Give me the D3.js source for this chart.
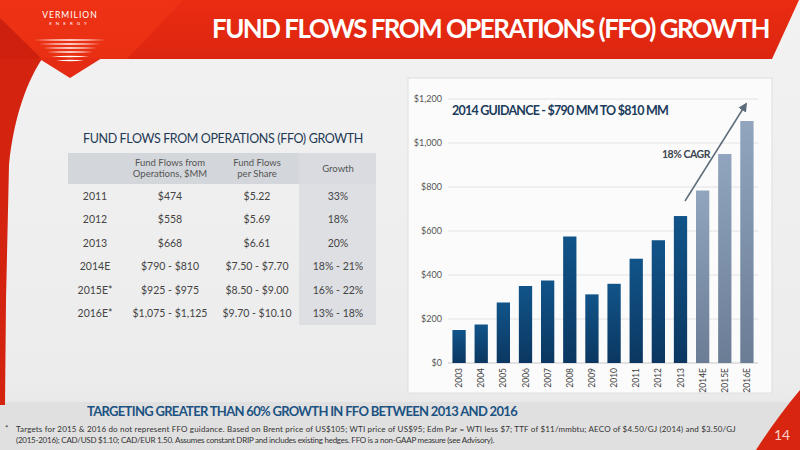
<!DOCTYPE html>
<html><head><meta charset="utf-8">
<script src="https://cdn.jsdelivr.net/npm/d3@7"></script>
<style>
html,body{margin:0;padding:0;background:#ececec;}
svg{display:block;font-family:Lato,"Open Sans",sans-serif;}
</style></head>
<body><svg id="c" width="800" height="450"></svg>
<script>
// ---- data ----
const years = ["2003","2004","2005","2006","2007","2008","2009","2010","2011","2012","2013","2014E","2015E","2016E"];
const ffo = [150,175,275,350,375,575,312,360,474,558,668,784,950,1100];
const estimate = [false,false,false,false,false,false,false,false,false,false,false,true,true,true];
const yTicks = [0,200,400,600,800,1000,1200];
const tableHead = ["", "Fund Flows from|Operations, $MM", "Fund Flows|per Share", "Growth"];
const tableYears = ["2011","2012","2013","2014E","2015E*","2016E*"];
const tableFFO = ["$474","$558","$668","$790 - $810","$925 - $975","$1,075 - $1,125"];
const tablePerShare = ["$5.22","$5.69","$6.61","$7.50 - $7.70","$8.50 - $9.00","$9.70 - $10.10"];
const tableGrowth = ["33%","18%","20%","18% - 21%","16% - 22%","13% - 18%"];

const svg = d3.select("#c");
const defs = svg.append("defs");

// fit a text to a target width by adjusting letter-spacing (and size if needed)
function fit(sel, target){
  const node = sel.node();
  let w = node.getComputedTextLength();
  const n = sel.text().length;
  let ls = (target - w) / n;
  if (ls < -1.5) {
    const fs = parseFloat(sel.attr("font-size"));
    sel.attr("font-size", fs * (target + 1.5*n) / w);
    w = node.getComputedTextLength();
    ls = (target - w) / n;
  }
  sel.attr("letter-spacing", ls);
  return sel;
}

// backgrounds
const bg = defs.append("linearGradient").attr("id","bg").attr("x1",0).attr("y1",0).attr("x2",0).attr("y2",1);
bg.append("stop").attr("offset","0").attr("stop-color","#f2f2f2");
bg.append("stop").attr("offset","0.85").attr("stop-color","#ececec");
bg.append("stop").attr("offset","1").attr("stop-color","#e2e2e2");
svg.append("rect").attr("width",800).attr("height",450).attr("fill","url(#bg)");
svg.append("rect").attr("x",0).attr("y",402).attr("width",800).attr("height",48).attr("fill","#e0e0e0");

// header band
const hg = defs.append("linearGradient").attr("id","hg").attr("x1",0).attr("y1",0).attr("x2",0).attr("y2",1);
hg.append("stop").attr("offset","0").attr("stop-color","#ea2c12");
hg.append("stop").attr("offset","1").attr("stop-color","#dc2510");
svg.append("path").attr("d","M0,0 L799,0 L772,59 L0,59 Z").attr("fill","url(#hg)");
svg.append("path").attr("d","M0,0 L183,0 L127,59 L0,59 Z").attr("fill","#ef3416").attr("opacity",0.7);
svg.append("path").attr("d","M0,18 L42,59 L0,59 Z").attr("fill","#c71d0c").attr("opacity",0.8);
// left swoosh
svg.append("path").attr("d","M0,59 L42,59 C28,80 14,115 9,165 L6,300 L5,405 L0,405 Z").attr("fill","#d4230f");
// logo triangle
svg.append("path").attr("d","M38,58 L102,58 L70,78 Z").attr("fill","#e52b13");
// logo text & stripes
svg.append("text").attr("x",70).attr("y",18).attr("text-anchor","middle").attr("fill","#fff")
  .attr("font-size",8.5).attr("letter-spacing",1).text("VERMILION");
svg.append("text").attr("x",70).attr("y",25).attr("text-anchor","middle").attr("fill","#fff")
  .attr("font-size",4.5).attr("letter-spacing",4).text("ENERGY");
const stripes = [[40,36],[44,31],[48,27],[52,23],[56.5,19],[60.5,14]];
stripes.forEach(s=>{
  svg.append("path").attr("d",`M${70-s[1]},${s[0]} Q70,${s[0]-1.6} ${70+s[1]},${s[0]} Q70,${s[0]+1.6} ${70-s[1]},${s[0]}Z`).attr("fill","#fff");
});

// title
fit(svg.append("text").attr("x",212).attr("y",38).attr("fill","#fff")
  .attr("font-size",26).attr("font-weight",700)
  .text("FUND FLOWS FROM OPERATIONS (FFO) GROWTH"), 557);

// bottom right swoosh
svg.append("path").attr("d","M800,390 C785,408 770,428 756,450 L800,450 Z").attr("fill","#d8250f");
svg.append("text").attr("x",782).attr("y",440).attr("text-anchor","middle").attr("fill","#f6d0c8")
  .attr("font-size",14).text("14");

// ---- table ----
fit(svg.append("text").attr("x",83).attr("y",143).attr("fill","#1f3a55").attr("font-size",12.5)
  .text("FUND FLOWS FROM OPERATIONS (FFO) GROWTH"), 280);
svg.append("rect").attr("x",68).attr("y",153).attr("width",308).attr("height",31).attr("fill","#d3d6da");
svg.append("rect").attr("x",299).attr("y",153).attr("width",77).attr("height",172).attr("fill","#d9dce0").attr("opacity",0.85);
const colX = [95,170,257,338];
tableHead.forEach((h,i)=>{
  const lines = h.split("|");
  lines.forEach((l,j)=>{
    svg.append("text").attr("x",colX[i]).attr("y", lines.length===1 ? 172 : 166+ j*11)
      .attr("text-anchor","middle").attr("fill","#555").attr("font-size",9.5).text(l);
  });
});
const rowY = d3.scalePoint().domain(tableYears).range([196,313]);
const cols = [tableYears,tableFFO,tablePerShare,tableGrowth];
cols.forEach((col,i)=>{
  col.forEach((v,r)=>{
    svg.append("text").attr("x",colX[i]).attr("y",rowY(tableYears[r])+4)
      .attr("text-anchor","middle").attr("fill","#444").attr("font-size",10.5).text(v);
  });
});

// ---- chart ----
svg.append("rect").attr("x",408).attr("y",78).attr("width",364).attr("height",315)
  .attr("fill","#fbfbfb").attr("stroke","#dedede");
const x = d3.scaleBand().domain(years).range([448,758]).paddingInner(0.4).paddingOuter(0.2);
const y = d3.scaleLinear().domain([0,1200]).range([363,99]);

svg.append("g").selectAll("line").data(yTicks).join("line")
  .attr("x1",448).attr("x2",758).attr("y1",d=>y(d)).attr("y2",d=>y(d))
  .attr("stroke",d=>d===0?"#c8c8c8":"#e2e2e2").attr("stroke-width",1);

const yAxis = svg.append("g").attr("transform","translate(448,0)")
  .call(d3.axisLeft(y).tickValues(yTicks).tickSize(0).tickPadding(6).tickFormat(d=>"$"+d3.format(",")(d)));
yAxis.select(".domain").remove();
yAxis.selectAll("text").attr("fill","#555").attr("font-size",9).attr("font-family","Lato,sans-serif");

const g1 = defs.append("linearGradient").attr("id","gh").attr("x1",0).attr("y1",0).attr("x2",0).attr("y2",1);
g1.append("stop").attr("offset","0").attr("stop-color","#115489");
g1.append("stop").attr("offset","1").attr("stop-color","#0b3761");
const g2 = defs.append("linearGradient").attr("id","ge").attr("x1",0).attr("y1",0).attr("x2",0).attr("y2",1);
g2.append("stop").attr("offset","0").attr("stop-color","#91a5bf");
g2.append("stop").attr("offset","1").attr("stop-color","#6b7d95");

svg.append("g").selectAll("rect").data(years).join("rect")
  .attr("x",d=>x(d)).attr("width",x.bandwidth())
  .attr("y",(d,i)=>y(ffo[i])).attr("height",(d,i)=>y(0)-y(ffo[i]))
  .attr("fill",(d,i)=>estimate[i]?"url(#ge)":"url(#gh)");

svg.append("g").selectAll("text").data(years).join("text")
  .attr("transform",d=>`translate(${x(d)+x.bandwidth()/2+3},368) rotate(-90)`)
  .attr("text-anchor","end").attr("fill","#444").attr("font-size",8.5).text(d=>d);

fit(svg.append("text").attr("x",452).attr("y",115).attr("fill","#1c3c5c").attr("font-size",12.5).attr("font-weight",700)
  .text("2014 GUIDANCE - $790 MM TO $810 MM"), 216);
fit(svg.append("text").attr("x",662).attr("y",158).attr("fill","#3d4650").attr("font-size",10.5).attr("font-weight",700)
  .text("18% CAGR"), 48);

defs.append("marker").attr("id","ah").attr("viewBox","0 0 10 10").attr("refX",8).attr("refY",5)
  .attr("markerWidth",6).attr("markerHeight",6).attr("orient","auto")
  .append("path").attr("d","M0,0 L10,5 L0,10 Z").attr("fill","#5d6b7a");
svg.append("line").attr("x1",685).attr("y1",201).attr("x2",746).attr("y2",104)
  .attr("stroke","#5d6b7a").attr("stroke-width",1.5).attr("marker-end","url(#ah)");

// ---- footer ----
fit(svg.append("text").attr("x",87).attr("y",416).attr("fill","#1b5282").attr("font-size",13).attr("font-weight",700)
  .text("TARGETING GREATER THAN 60% GROWTH IN FFO BETWEEN 2013 AND 2016"), 430);
svg.append("text").attr("x",5).attr("y",431).attr("fill","#333").attr("font-size",8).text("*");
fit(svg.append("text").attr("x",16).attr("y",432).attr("fill","#333").attr("font-size",8)
  .text("Targets for 2015 & 2016 do not represent FFO guidance.  Based on Brent price of US$105; WTI price of US$95; Edm Par = WTI less $7; TTF of $11/mmbtu; AECO of $4.50/GJ (2014) and $3.50/GJ"), 720);
fit(svg.append("text").attr("x",16).attr("y",443).attr("fill","#333").attr("font-size",8)
  .text("(2015-2016); CAD/USD $1.10; CAD/EUR 1.50.  Assumes constant DRIP and includes existing hedges. FFO is a non-GAAP measure (see Advisory)."), 478);
</script></body></html>
